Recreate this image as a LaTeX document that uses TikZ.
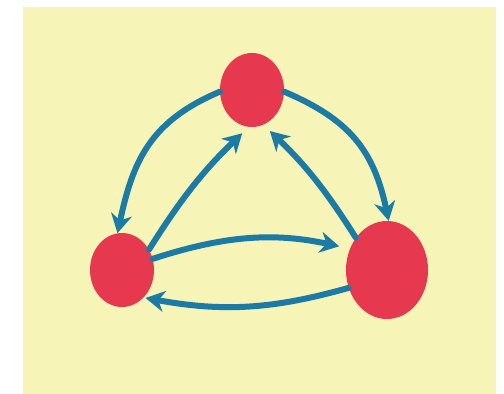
\documentclass[tikz,border=0pt]{standalone}
\usetikzlibrary{shapes.geometric,arrows.meta}
\definecolor{bgyellow}{HTML}{F6F4B6}
\definecolor{dotred}{HTML}{E63950}
\definecolor{flowblue}{HTML}{1B7BA4}
\begin{document}
\begin{tikzpicture}[x=1pt,y=1pt,line cap=round,
  dot/.style={ellipse,fill=dotred,inner sep=0pt,minimum width=64pt,minimum height=74pt},
  flow/.style={draw=flowblue,line width=6pt,-{Stealth[length=19pt,width=21pt,inset=6pt]}}]
  \useasboundingbox (0,0) rectangle (504,394);
  \fill[bgyellow] (23,0) rectangle (496,387);
  % the three dots
  \node[dot] (top) at (252,304) {};
  \node[dot] (lft) at (122,124) {};
  \node[dot,minimum width=82pt,minimum height=98pt] (rgt) at (387,124) {};
  % outer arcs
  \draw[flow] (top.183) to[out=203,in=78,looseness=1.1] (lft.97);
  \draw[flow] (top.-3) to[out=-23,in=102,looseness=1.1] (rgt.88);
  % inner arrows
  \draw[flow,shorten >=9pt] (lft.37) to[bend left=7] (top.265);
  \draw[flow,shorten >=9pt] (rgt.134) to[bend right=7] (top.288);
  % bottom pair
  \draw[flow,shorten >=11pt] (lft.20) to[bend left=15] (rgt.150);
  \draw[flow,shorten >=2pt] (rgt.205) to[bend left=13] (lft.-52);
\end{tikzpicture}
\end{document}
